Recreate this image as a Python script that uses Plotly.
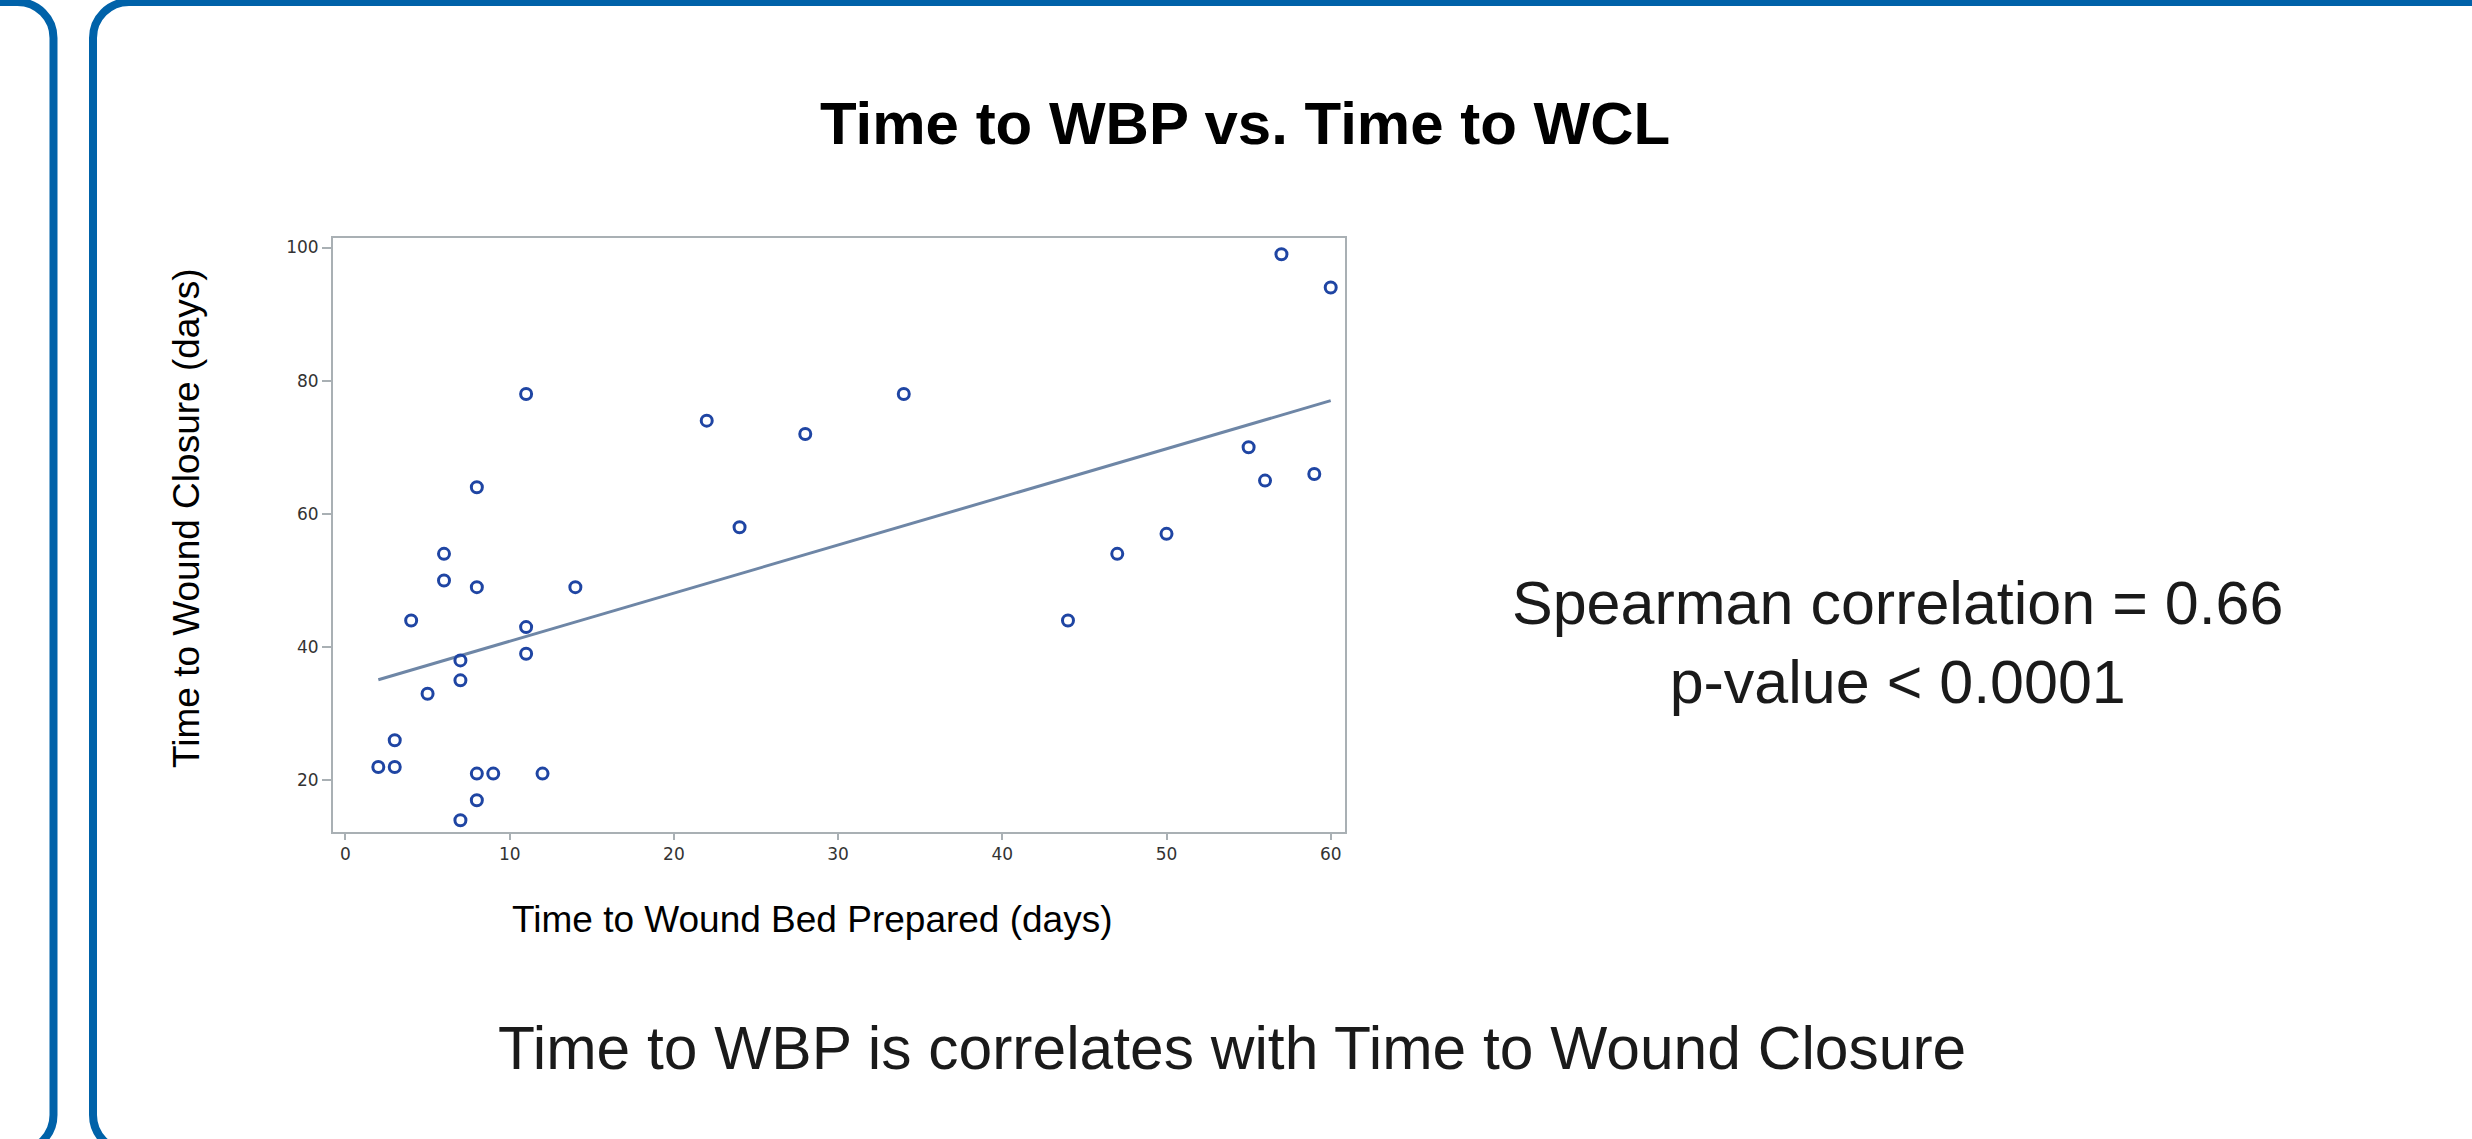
import plotly.graph_objects as go

# data
wbp_days = [2, 3, 3, 4, 5, 6, 6, 7, 7, 7, 8, 8, 8, 8, 9, 11, 11, 11, 12, 14,
            22, 24, 28, 34, 44, 47, 50, 55, 56, 57, 59, 60]
wcl_days = [22, 22, 26, 44, 33, 54, 50, 38, 35, 14, 64, 49, 21, 17, 21, 78, 43, 39, 21, 49,
            74, 58, 72, 78, 44, 54, 57, 70, 65, 99, 66, 94]
fit_x = [2, 60]
fit_y = [35.1, 77.0]
x_ticks = [0, 10, 20, 30, 40, 50, 60]
y_ticks = [20, 40, 60, 80, 100]

title = "Time to WBP vs. Time to WCL"
stats_text = "Spearman correlation = 0.66<br>p-value &lt; 0.0001"
footer = "Time to WBP is correlates with Time to Wound Closure"

W, H = 2472, 1139
L, R, T, B = 333, 1345, 238, 832  # plot frame in pixels
FONT = "Liberation Sans, Arial, sans-serif"
BLUE = "#0062A9"


def px(x):
    return (x - L) / (R - L)


def py(y):
    return (B - y) / (B - T)


def rounded_rect(x0, y0, x1, y1, r):
    # rounded rectangle in pixel coords -> paper-coords svg path
    k = 0.5523 * r
    pts = [
        ("M", [(x0 + r, y0)]),
        ("L", [(x1 - r, y0)]),
        ("C", [(x1 - r + k, y0), (x1, y0 + r - k), (x1, y0 + r)]),
        ("L", [(x1, y1 - r)]),
        ("C", [(x1, y1 - r + k), (x1 - r + k, y1), (x1 - r, y1)]),
        ("L", [(x0 + r, y1)]),
        ("C", [(x0 + r - k, y1), (x0, y1 - r + k), (x0, y1 - r)]),
        ("L", [(x0, y0 + r)]),
        ("C", [(x0, y0 + r - k), (x0 + r - k, y0), (x0 + r, y0)]),
    ]
    s = ""
    for cmd, coords in pts:
        s += cmd + " " + " ".join(f"{px(a):.5f},{py(b):.5f}" for a, b in coords) + " "
    return s + "Z"


def add_text(text, x, y, size, color="#1a1a1a", angle=0):
    fig.add_annotation(x=px(x), y=py(y), xref="paper", yref="paper",
                       xanchor="center", yanchor="middle", align="center",
                       text=text, showarrow=False, textangle=angle,
                       font=dict(family=FONT, size=size, color=color))


fig = go.Figure()

fig.add_trace(go.Scatter(
    x=fit_x, y=fit_y, mode="lines",
    line=dict(color="#6E86A6", width=3),
    hoverinfo="skip", showlegend=False,
))

fig.add_trace(go.Scatter(
    x=wbp_days, y=wcl_days, mode="markers",
    marker=dict(symbol="circle", size=11, color="rgba(0,0,0,0)",
                line=dict(color="#1F45A3", width=3)),
    showlegend=False,
))

# the two rounded slide panels
for box in [(-120, 2, 53.5, 1151), (93, 2, 2700, 1151)]:
    fig.add_shape(type="path", xref="paper", yref="paper",
                  path=rounded_rect(*box, 36),
                  line=dict(color=BLUE, width=8), layer="below")

# texts
add_text(f"<b>{title}</b>", 1245, 123, 60, "#000000")
add_text(stats_text, 1897, 642, 61)
add_text(footer, 1232, 1048, 60.5)
add_text("Time to Wound Bed Prepared (days)", 812, 919, 37, "#000000")
add_text("Time to Wound Closure (days)", 186, 518, 37, "#000000", angle=-90)

axis_common = dict(
    showline=True, linecolor="#A9B0B4", linewidth=2, mirror=True,
    showgrid=False, zeroline=False,
    ticks="outside", tickcolor="#A9B0B4", tickwidth=2,
    tickfont=dict(family="DejaVu Sans, sans-serif", size=17, color="#333333"),
)

fig.update_xaxes(range=[-0.76, 60.87], tickvals=x_ticks, ticklen=6, **axis_common)
fig.update_yaxes(range=[12.23, 101.43], tickvals=y_ticks, ticklen=9, **axis_common)

fig.update_layout(
    width=W, height=H,
    margin=dict(l=L, r=W - R, t=T, b=H - B, autoexpand=False),
    paper_bgcolor="white", plot_bgcolor="white",
    showlegend=False,
)

fig.write_html("out.html", config={"displayModeBar": False},
               post_script="document.body.style.margin='0';")
